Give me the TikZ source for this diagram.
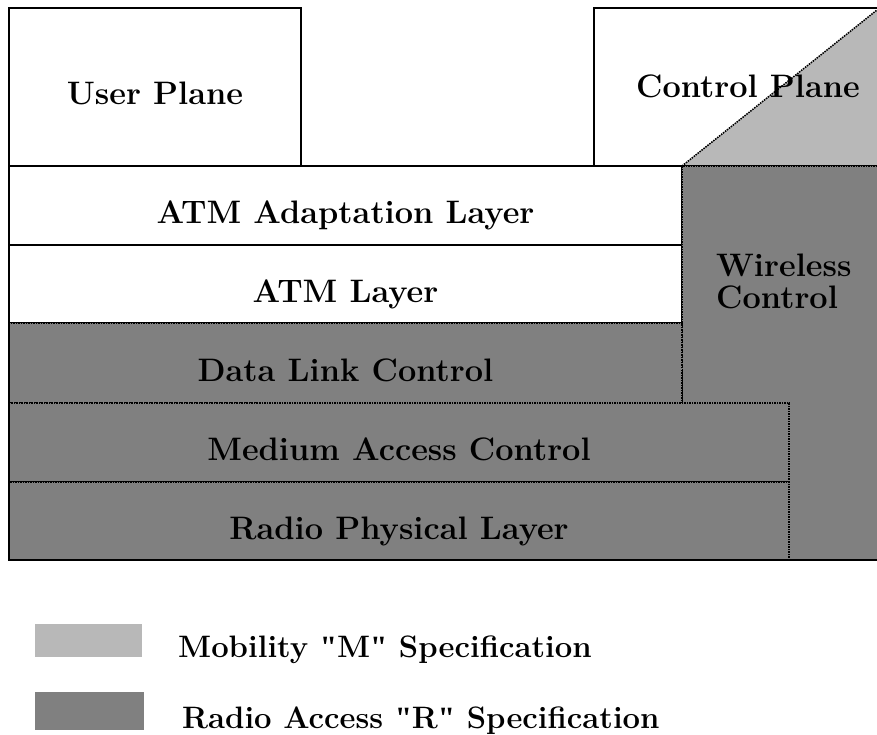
\documentclass[tikz,border=0pt]{standalone}
\usepackage{fontspec}
\newfontfamily\quotefont{Liberation Serif}
\newcommand{\specq}[1]{{\quotefont\bfseries"}#1{\quotefont\bfseries"}}
\usetikzlibrary{positioning}

\tikzset{
  layer/.style={draw, line width=1.5pt, minimum height=79pt, inner sep=0pt, outer sep=0pt,
    text height=36pt, text depth=0pt, font=\fontsize{32.5}{32}\selectfont\bfseries},
  radio/.style={layer, fill=black!50, densely dotted},
  mobility/.style={fill=black!28},
  legend/.style={inner sep=0pt, font=\fontsize{31}{36}\selectfont\bfseries},
}

\begin{document}
\begin{tikzpicture}[x=1pt, y=-1pt]
        \clip (0,0) rectangle (877,735);
        \fill[white] (0,0) rectangle (877,735);

        % planes
        \node[layer, anchor=north west, minimum width=292pt, minimum height=158pt] (up) at (9,8) {User Plane};
        \fill[mobility] (682,166) -- (877,10) -- (890,10) -- (890,166) -- cycle;
        \draw[densely dotted, line width=1.5pt] (682,166) -- (877,10);
        \node[layer, anchor=north west, minimum width=308pt, minimum height=158pt, text height=22pt] (cp) at (594,8) {Control Plane};

        % ATM part
        \node[layer, anchor=north west, fill=white, minimum width=673pt] (aal) at (9,166) {ATM Adaptation Layer};
        \node[layer, fill=white, minimum width=673pt, minimum height=78pt] (atm) [below=0pt of aal] {ATM Layer};

        % radio part
        \node[radio, anchor=north west, minimum width=208pt, minimum height=394pt] (wc) at (682,166) {};
        \node[inner sep=0pt, font=\fontsize{32.5}{32}\selectfont\bfseries, align=left, anchor=west] (wctext) at (716,281) {Wireless\\Control};
        \node[radio, minimum width=673pt, minimum height=80pt] (dlc) [below=0pt of atm] {Data Link Control};
        \node[radio, anchor=north west, minimum width=780pt] (mac) at (dlc.south west) {Medium Access Control};
        \node[radio, anchor=north west, minimum width=780pt, minimum height=78pt] (rpl) at (mac.south west) {Radio Physical Layer};
        \draw[line width=1.5pt] (aal.north west) -- (rpl.south west) -- (wc.south east);

        % legend
        \node[mobility, anchor=north west, minimum width=107pt, minimum height=33pt, inner sep=0pt] (mkey) at (35,624) {};
        \node[legend, anchor=base west] (mtext) at (178,657) {Mobility \specq{M} Specification};
        \node[fill=black!50, anchor=north west, minimum width=109pt, minimum height=38pt, inner sep=0pt] (rkey) at (35,692) {};
        \node[legend, anchor=base west] (rtext) at (182,728) {Radio Access \specq{R} Specification};
\end{tikzpicture}
\end{document}
